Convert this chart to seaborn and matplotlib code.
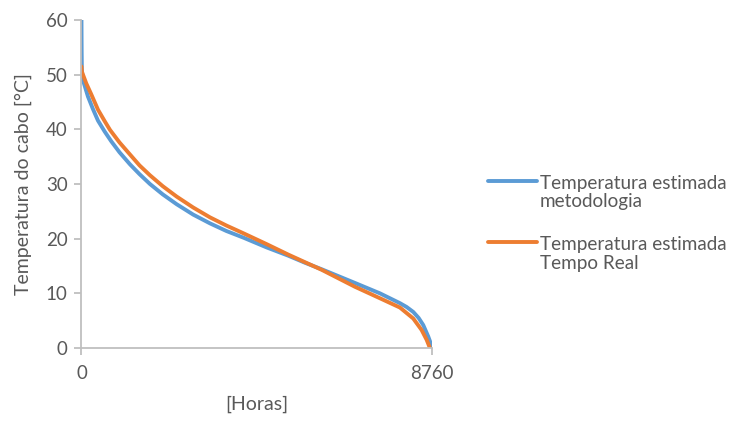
import matplotlib
matplotlib.use("Agg")
import matplotlib.pyplot as plt
from matplotlib.legend_handler import HandlerLine2D
import seaborn as sns
import pandas as pd

# Duration curves
horas_metod = [0, 2, 5, 10, 20, 37, 162, 287, 412, 579, 745, 950, 1211, 1450, 1710,
               2030, 2377, 2790, 3209, 3620, 4040, 4624, 5160, 5580, 6000, 6830,
               7453, 7953, 8120, 8285, 8420, 8535, 8660, 8720, 8750]
temp_metod = [60, 57, 54, 51, 50, 49.0, 46.0, 43.7, 41.6, 39.6, 37.8, 35.8, 33.6,
              31.8, 30.0, 28.1, 26.3, 24.4, 22.8, 21.4, 20.2, 18.4, 16.9, 15.6,
              14.4, 11.9, 10.0, 8.2, 7.5, 6.6, 5.5, 4.2, 2.1, 0.9, 0]

horas_real = [0, 12, 120, 245, 412, 579, 712, 950, 1211, 1450, 1710, 2030, 2377,
              2790, 3209, 3620, 4040, 4624, 5160, 5580, 6000, 6830, 7453, 7953,
              8285, 8494, 8620, 8702]
temp_real = [51.5, 50.5, 48.4, 46.4, 43.6, 41.5, 39.9, 37.6, 35.4, 33.4, 31.6, 29.6,
             27.7, 25.7, 23.9, 22.4, 21.0, 19.0, 17.1, 15.7, 14.3, 11.2, 9.1, 7.4,
             5.4, 3.3, 1.5, 0]

series = ["Temperatura estimada\nmetodologia", "Temperatura estimada\nTempo Real"]
cores = ["#5B9BD5", "#ED7D31"]

df = pd.concat([
    pd.DataFrame({"Horas": horas_metod, "Temp": temp_metod, "Serie": series[0]}),
    pd.DataFrame({"Horas": horas_real, "Temp": temp_real, "Serie": series[1]}),
])

sns.set_style("white")
plt.rcParams["font.family"] = ["Lato", "DejaVu Sans"]


class FirstLineHandler(HandlerLine2D):
    # put the legend line next to the first text line instead of between both
    def create_artists(self, legend, orig_handle, xdescent, ydescent, width,
                       height, fontsize, trans):
        arts = super().create_artists(legend, orig_handle, xdescent, ydescent,
                                      width, height, fontsize, trans)
        for a in arts:
            a.set_ydata([y + 0.65 * fontsize for y in a.get_ydata()])
        return arts


fig = plt.figure(figsize=(7.32, 4.21), dpi=100)
ax = fig.add_axes([0.1113, 0.1734, 0.4792, 0.7791])

sns.lineplot(data=df, x="Horas", y="Temp", hue="Serie", palette=cores,
             linewidth=2.8, estimator=None, sort=False, ax=ax)

ax.set_xlim(0, 8760)
ax.set_ylim(0, 60)
ax.set_xticks([0, 8760])
ax.set_yticks(range(0, 61, 10))

grey = "#BFBFBF"
for s in ["top", "right"]:
    ax.spines[s].set_visible(False)
for s in ["left", "bottom"]:
    ax.spines[s].set_color(grey)
    ax.spines[s].set_linewidth(1.3)
ax.tick_params(axis="both", colors=grey, labelcolor="#595959", labelsize=13.5,
               length=5, width=1.3, direction="out", left=True, bottom=True)
ax.tick_params(axis="x", pad=7)
ax.tick_params(axis="y", pad=5)

ax.set_xlabel("[Horas]", fontsize=14, color="#595959", labelpad=10)
ax.set_ylabel("Temperatura do cabo [°C]", fontsize=14, color="#595959", labelpad=10)

handles, labels = ax.get_legend_handles_labels()
leg = ax.legend(handles, labels, loc="upper left", bbox_to_anchor=(1.11, 0.58),
                frameon=False, fontsize=13.6, handlelength=2.6, handletextpad=0.15,
                labelspacing=1.35,
                handler_map={h: FirstLineHandler() for h in handles})
for t in leg.get_texts():
    t.set_color("#595959")
    t.set_linespacing(1.12)

fig.savefig("out.png", dpi=100)
